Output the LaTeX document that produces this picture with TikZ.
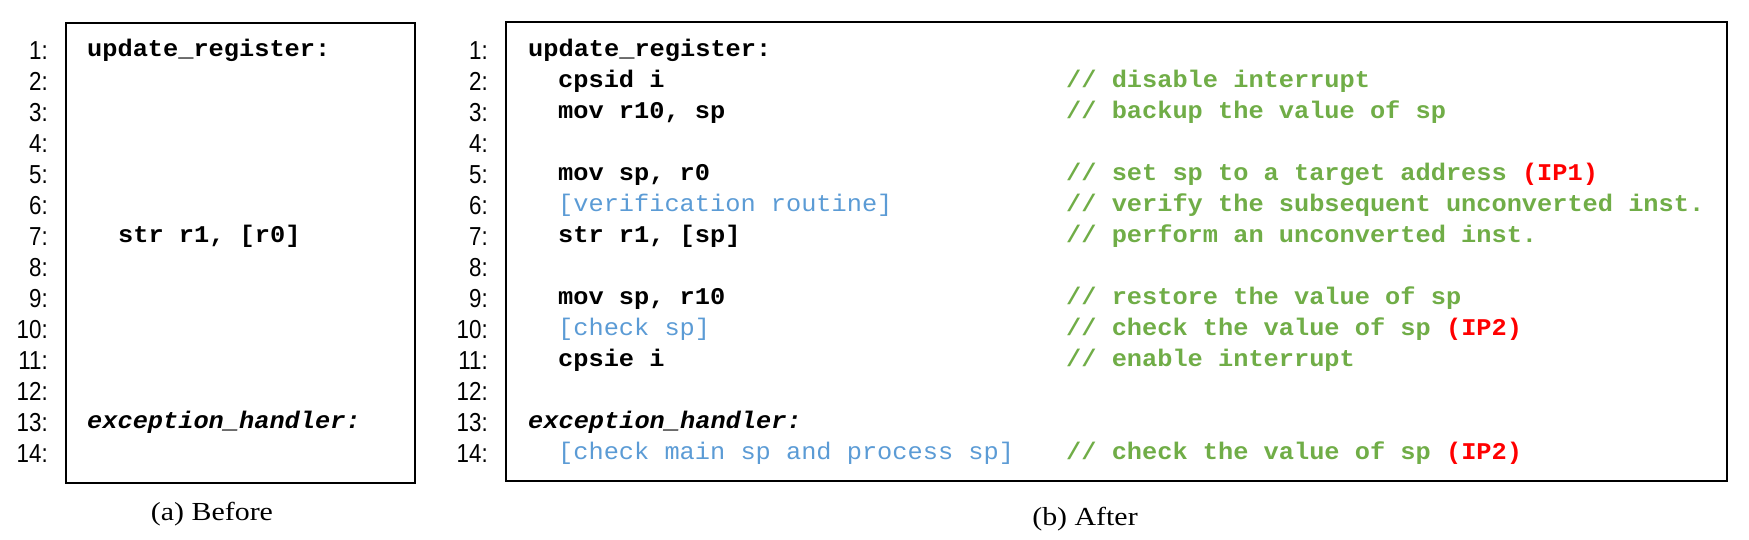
\documentclass[tikz,border=0pt]{standalone}
\usepackage{fontspec}
\usepackage{tikz}
\setmainfont[FakeStretch=1.15]{Liberation Serif}
\newfontfamily\codefont[FakeStretch=1.055]{Liberation Mono}
\newfontfamily\numfont[FakeStretch=0.86]{Liberation Sans}
\definecolor{cmtgreen}{HTML}{70AD47}
\definecolor{rtnblue}{HTML}{5B9BD5}
\definecolor{ipred}{HTML}{FF0000}

\tikzset{
    num/.style={anchor=base east, inner sep=0, font=\numfont\fontsize{26}{30}\selectfont},
    code/.style={anchor=base west, inner sep=0, font=\codefont\bfseries\fontsize{24}{28}\selectfont},
    cmt/.style={code, text=cmtgreen},
    rtn/.style={code, text=rtnblue, font=\codefont\fontsize{24}{28}\selectfont},
    capt/.style={anchor=base, inner sep=0, font=\fontsize{26}{30}\selectfont}
}
\newcommand{\ip}[1]{{\color{ipred}(#1)}}

\begin{document}
\begin{tikzpicture}[x=1pt, y=-1pt]
        \useasboundingbox (0,0) rectangle (1749,539);
        % boxes
        \draw[black, line width=2.3] (66,23) rectangle (415,483);
        \draw[black, line width=2.3] (506,22) rectangle (1727,481);
        % line numbers
        \foreach \i in {1,...,14} {
            \node[num] (na\i) at (48,{59+31*(\i-1)}) {\i:};
            \node[num] (nb\i) at (488,{59+31*(\i-1)}) {\i:};
        }
        % (a) before
        \node[code] (a1) at (87,56) {update\_register:};
        \node[code] (a7) at (118,242) {str r1, [r0]};
        \node[code] (a13) at (87,428) {\itshape exception\_handler:};
        % (b) after
        \node[code] (b1) at (528,56) {update\_register:};
        \node[code] (b2) at (558,87) {cpsid i};
        \node[code] (b3) at (558,118) {mov r10, sp};
        \node[code] (b5) at (558,180) {mov sp, r0};
        \node[rtn] (b6) at (558,211) {[verification routine]};
        \node[code] (b7) at (558,242) {str r1, [sp]};
        \node[code] (b9) at (558,304) {mov sp, r10};
        \node[rtn] (b10) at (558,335) {[check sp]};
        \node[code] (b11) at (558,366) {cpsie i};
        \node[code] (b13) at (528,428) {\itshape exception\_handler:};
        \node[rtn] (b14) at (558,459) {[check main sp and process sp]};
        % comments
        \node[cmt] (c2) at (1066,87) {// disable interrupt};
        \node[cmt] (c3) at (1066,118) {// backup the value of sp};
        \node[cmt] (c5) at (1066,180) {// set sp to a target address \ip{IP1}};
        \node[cmt] (c6) at (1066,211) {// verify the subsequent unconverted inst.};
        \node[cmt] (c7) at (1066,242) {// perform an unconverted inst.};
        \node[cmt] (c9) at (1066,304) {// restore the value of sp};
        \node[cmt] (c10) at (1066,335) {// check the value of sp \ip{IP2}};
        \node[cmt] (c11) at (1066,366) {// enable interrupt};
        \node[cmt] (c14) at (1066,459) {// check the value of sp \ip{IP2}};
        % captions
        \node[capt] (capa) at (212,520) {(a) Before};
        \node[capt] (capb) at (1085,525) {(b) After};
    \end{tikzpicture}
\end{document}
